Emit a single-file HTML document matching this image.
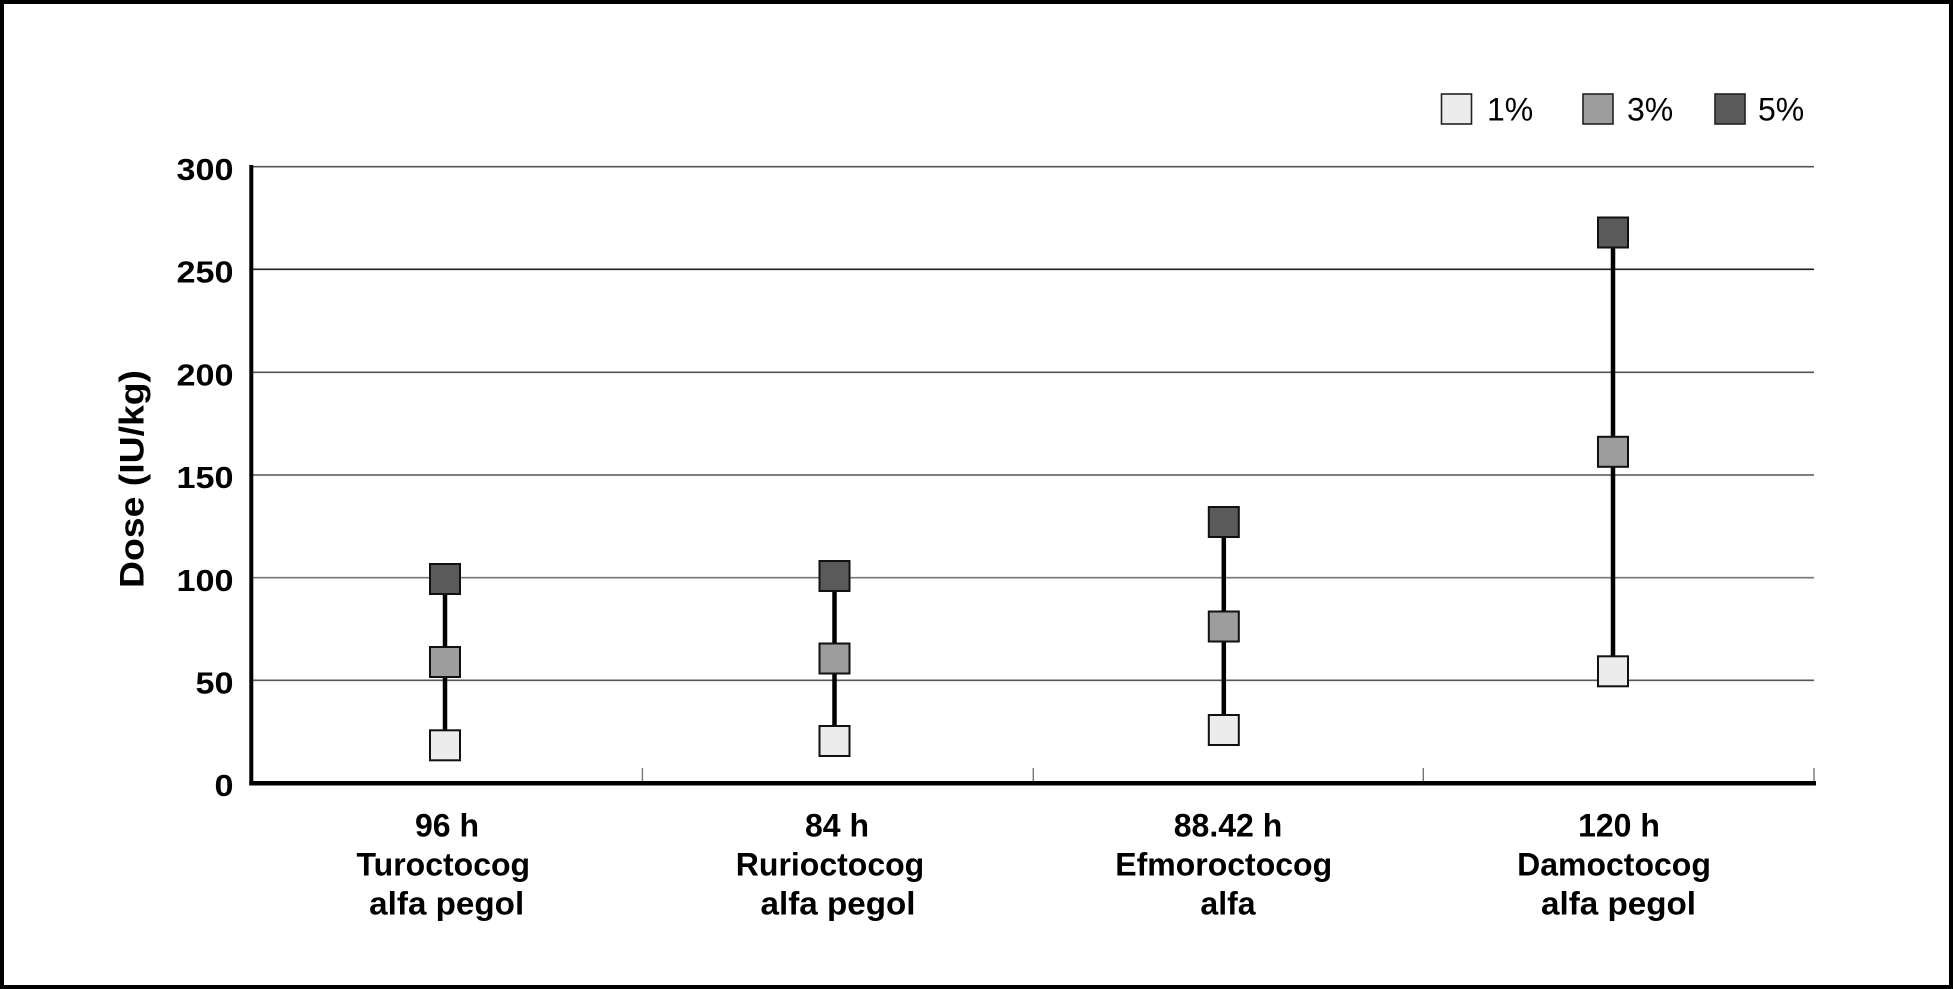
<!DOCTYPE html>
<html>
<head>
<meta charset="utf-8">
<style>
  html, body { margin: 0; padding: 0; background: #fff; }
  svg { display: block; }
  .tick { font-family: "Liberation Sans", Arial, sans-serif; font-weight: bold; font-size: 31px; fill: #000; }
  .cat { font-family: "Liberation Sans", Arial, sans-serif; font-weight: bold; font-size: 32px; fill: #000; }
  .leg { font-family: "Liberation Sans", Arial, sans-serif; font-size: 32px; fill: #000; }
  .ttl { font-family: "Liberation Sans", Arial, sans-serif; font-weight: bold; font-size: 34px; fill: #000; }
</style>
</head>
<body>
<svg width="1953" height="989" viewBox="0 0 1953 989" xmlns="http://www.w3.org/2000/svg">
  <rect x="0" y="0" width="1953" height="989" fill="#fff"/>
  <!-- outer frame -->
  <rect x="2" y="2" width="1949" height="985" fill="none" stroke="#000" stroke-width="4"/>

  <!-- gridlines -->
  <g stroke="#555" stroke-width="1.6">
    <line x1="253" y1="166.7" x2="1814" y2="166.7"/>
    <line x1="253" y1="269.3" x2="1814" y2="269.3" stroke="#222"/>
    <line x1="253" y1="372.3" x2="1814" y2="372.3"/>
    <line x1="253" y1="475" x2="1814" y2="475"/>
    <line x1="253" y1="577.7" x2="1814" y2="577.7" stroke="#777"/>
    <line x1="253" y1="680.3" x2="1814" y2="680.3"/>
  </g>

  <!-- x ticks -->
  <g stroke="#777" stroke-width="1.4">
    <line x1="642.4" y1="768" x2="642.4" y2="783"/>
    <line x1="1033.3" y1="768" x2="1033.3" y2="783"/>
    <line x1="1423.3" y1="768" x2="1423.3" y2="783"/>
    <line x1="1814" y1="768" x2="1814" y2="783"/>
  </g>

  <!-- axes -->
  <line x1="251.3" y1="165" x2="251.3" y2="785.5" stroke="#000" stroke-width="4"/>
  <line x1="249.3" y1="783.3" x2="1816" y2="783.3" stroke="#000" stroke-width="4.5"/>

  <!-- y tick labels -->
  <text class="tick" x="233.5" y="180.1" text-anchor="end" textLength="57" lengthAdjust="spacingAndGlyphs">300</text>
  <text class="tick" x="233.5" y="282.5" text-anchor="end" textLength="57" lengthAdjust="spacingAndGlyphs">250</text>
  <text class="tick" x="233.5" y="385.5" text-anchor="end" textLength="57" lengthAdjust="spacingAndGlyphs">200</text>
  <text class="tick" x="233.5" y="488.2" text-anchor="end" textLength="57" lengthAdjust="spacingAndGlyphs">150</text>
  <text class="tick" x="233.5" y="590.9" text-anchor="end" textLength="57" lengthAdjust="spacingAndGlyphs">100</text>
  <text class="tick" x="233.5" y="693.5" text-anchor="end" textLength="38" lengthAdjust="spacingAndGlyphs">50</text>
  <text class="tick" x="233.5" y="796.2" text-anchor="end" textLength="19" lengthAdjust="spacingAndGlyphs">0</text>

  <!-- y axis title -->
  <text class="ttl" transform="translate(143.5,479) rotate(-90)" text-anchor="middle" textLength="218" lengthAdjust="spacingAndGlyphs">Dose (IU/kg)</text>

  <!-- series connectors -->
  <g stroke="#000" stroke-width="4.5">
    <line x1="445" y1="579" x2="445" y2="745.3"/>
    <line x1="834.5" y1="576" x2="834.5" y2="741"/>
    <line x1="1223.8" y1="522" x2="1223.8" y2="730"/>
    <line x1="1613" y1="232.5" x2="1613" y2="671.3"/>
  </g>

  <!-- markers -->
  <g stroke="#111" stroke-width="2">
    <rect x="430" y="564" width="30" height="30" fill="#5a5a5a"/>
    <rect x="430" y="647" width="30" height="30" fill="#9d9d9d"/>
    <rect x="430" y="730.3" width="30" height="30" fill="#ececec"/>
    <rect x="819.5" y="561" width="30" height="30" fill="#5a5a5a"/>
    <rect x="819.5" y="643.5" width="30" height="30" fill="#9d9d9d"/>
    <rect x="819.5" y="726" width="30" height="30" fill="#ececec"/>
    <rect x="1208.8" y="507" width="30" height="30" fill="#5a5a5a"/>
    <rect x="1208.8" y="611.5" width="30" height="30" fill="#9d9d9d"/>
    <rect x="1208.8" y="715" width="30" height="30" fill="#ececec"/>
    <rect x="1598" y="217.5" width="30" height="30" fill="#5a5a5a"/>
    <rect x="1598" y="436.8" width="30" height="30" fill="#9d9d9d"/>
    <rect x="1598" y="656.3" width="30" height="30" fill="#ececec"/>
  </g>

  <!-- legend -->
  <g stroke="#222" stroke-width="1.6">
    <rect x="1441.5" y="94" width="30" height="30" fill="#ececec"/>
    <rect x="1583" y="94" width="30" height="30" fill="#9d9d9d"/>
    <rect x="1715" y="94" width="30" height="30" fill="#5a5a5a"/>
  </g>
  <text class="leg" x="1487" y="120.7">1%</text>
  <text class="leg" x="1627" y="120.7">3%</text>
  <text class="leg" x="1758" y="120.7">5%</text>

  <!-- category labels -->
  <text class="cat" x="447" y="836.7" text-anchor="middle">96 h</text>
  <text class="cat" x="443.3" y="875.7" text-anchor="middle">Turoctocog</text>
  <text class="cat" x="446.7" y="914.3" text-anchor="middle" textLength="155" lengthAdjust="spacingAndGlyphs">alfa pegol</text>

  <text class="cat" x="837" y="836.7" text-anchor="middle">84 h</text>
  <text class="cat" x="830" y="875.7" text-anchor="middle">Rurioctocog</text>
  <text class="cat" x="838" y="914.3" text-anchor="middle" textLength="155" lengthAdjust="spacingAndGlyphs">alfa pegol</text>

  <text class="cat" x="1228" y="836.7" text-anchor="middle">88.42 h</text>
  <text class="cat" x="1223.7" y="875.7" text-anchor="middle">Efmoroctocog</text>
  <text class="cat" x="1228" y="914.3" text-anchor="middle">alfa</text>

  <text class="cat" x="1619" y="836.7" text-anchor="middle">120 h</text>
  <text class="cat" x="1614" y="875.7" text-anchor="middle">Damoctocog</text>
  <text class="cat" x="1618.5" y="914.3" text-anchor="middle" textLength="155" lengthAdjust="spacingAndGlyphs">alfa pegol</text>
</svg>
</body>
</html>
